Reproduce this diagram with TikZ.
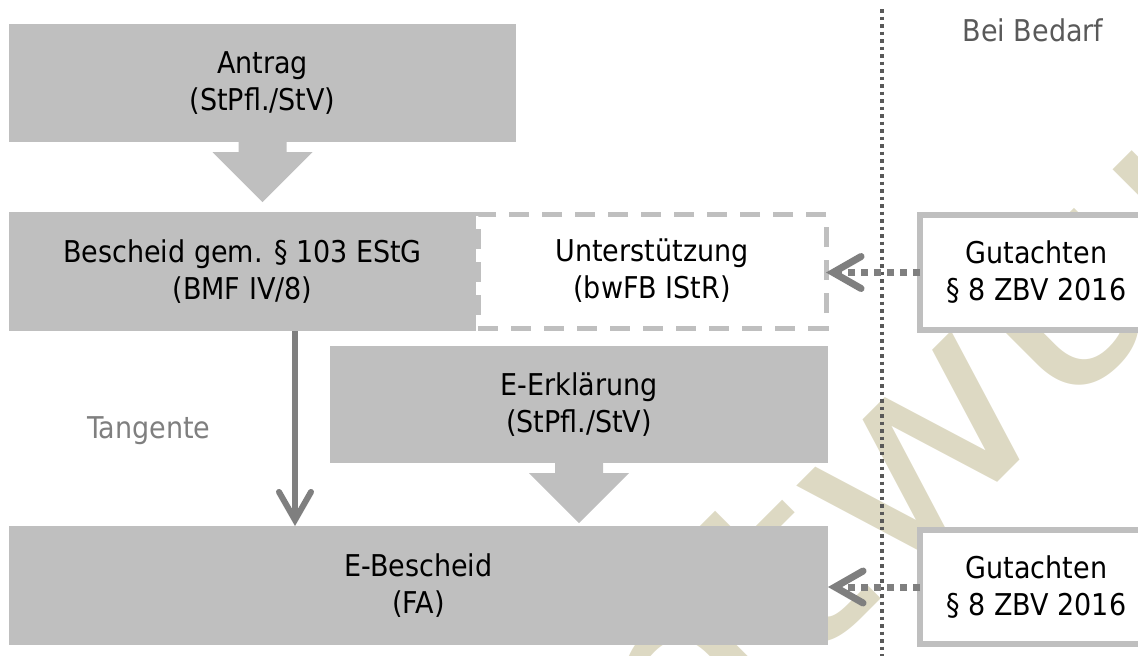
\documentclass[tikz,border=0pt]{standalone}
\usepackage{fontspec}
\setmainfont{DejaVu Sans Condensed}
\usetikzlibrary{arrows.meta}
\definecolor{boxgrey}{RGB}{191,191,191}
\definecolor{arrowgrey}{RGB}{127,127,127}
\definecolor{linegrey}{RGB}{89,89,89}
\definecolor{stamp}{RGB}{221,217,195}

\begin{document}
\begin{tikzpicture}[x=1pt,y=-1pt,
  every node/.style={font=\fontsize{30}{37}\selectfont, inner sep=0pt, outer sep=0pt, align=center},
  greybox/.style={fill=boxgrey, anchor=north west},
  helpbox/.style={draw=boxgrey, line width=5pt, dash pattern=on 20pt off 13pt, anchor=north west},
  expertbox/.style={draw=boxgrey, fill=white, line width=6pt, anchor=north west},
  chevron/.style={-{Straight Barb[length=28pt,width=32pt,line cap=round]}, line width=7pt, draw=arrowgrey},
  dotarrow/.style={chevron, dash pattern=on 7pt off 6pt},
  remark/.style={anchor=base}
]
  \useasboundingbox (0,0) rectangle (1138,656);
  \node[text=stamp, font=\fontsize{255}{255}\selectfont, rotate=45, xscale=1.3] (entwurf) at (878,468) {Entwurf};

  \node[greybox, minimum width=507, minimum height=118] (antrag) at (9,24) {Antrag\\(StPfl./StV)};
  \fill[boxgrey] (antrag.south) ++(-24,0) -- ++(0,10) -- ++(-26,0) -- ++(50,50) -- ++(50,-50) -- ++(-26,0) -- ++(0,-10) -- cycle;

  \node[helpbox, minimum width=348, minimum height=114] (hilfe) at (478,214) {Unterstützung\\(bwFB IStR)};
  \node[greybox, minimum width=467, minimum height=119] (bescheid) at (9,212) {Bescheid gem. § 103 EStG\\(BMF IV/8)};

  \node[greybox, minimum width=498, minimum height=117] (erklaerung) at (330,346) {E-Erklärung\\(StPfl./StV)};
  \fill[boxgrey] (erklaerung.south) ++(-24,0) -- ++(0,10) -- ++(-26,0) -- ++(50,50) -- ++(50,-50) -- ++(-26,0) -- ++(0,-10) -- cycle;

  \node[greybox, minimum width=819, minimum height=119] (ebescheid) at (9,526) {E-Bescheid\\(FA)};

  \coordinate (septop) at (882,9);
  \coordinate (sepbot) at (882,656);
  \draw[linegrey, line width=3.5pt, dash pattern=on 3.5pt off 4pt] (septop) -- (sepbot);

  \node[expertbox, minimum width=233, minimum height=115] (gutachten1) at (920,215) {Gutachten\\§ 8 ZBV 2016};
  \node[expertbox, minimum width=233, minimum height=114] (gutachten2) at (920,530) {Gutachten\\§ 8 ZBV 2016};

  \draw[dotarrow] (gutachten1.west) -- (gutachten1.west -| hilfe.east);
  \draw[dotarrow] (gutachten2.west) -- (gutachten2.west -| ebescheid.east);

  \coordinate (tang) at (295,0);
  \draw[chevron, line width=6pt] (tang |- bescheid.south) -- (tang |- ebescheid.north);

  \node[remark, text=linegrey] (bedarf) at (1033,41) {Bei Bedarf};
  \node[remark, text=arrowgrey] (tangente) at (149,438) {Tangente};
\end{tikzpicture}
\end{document}
